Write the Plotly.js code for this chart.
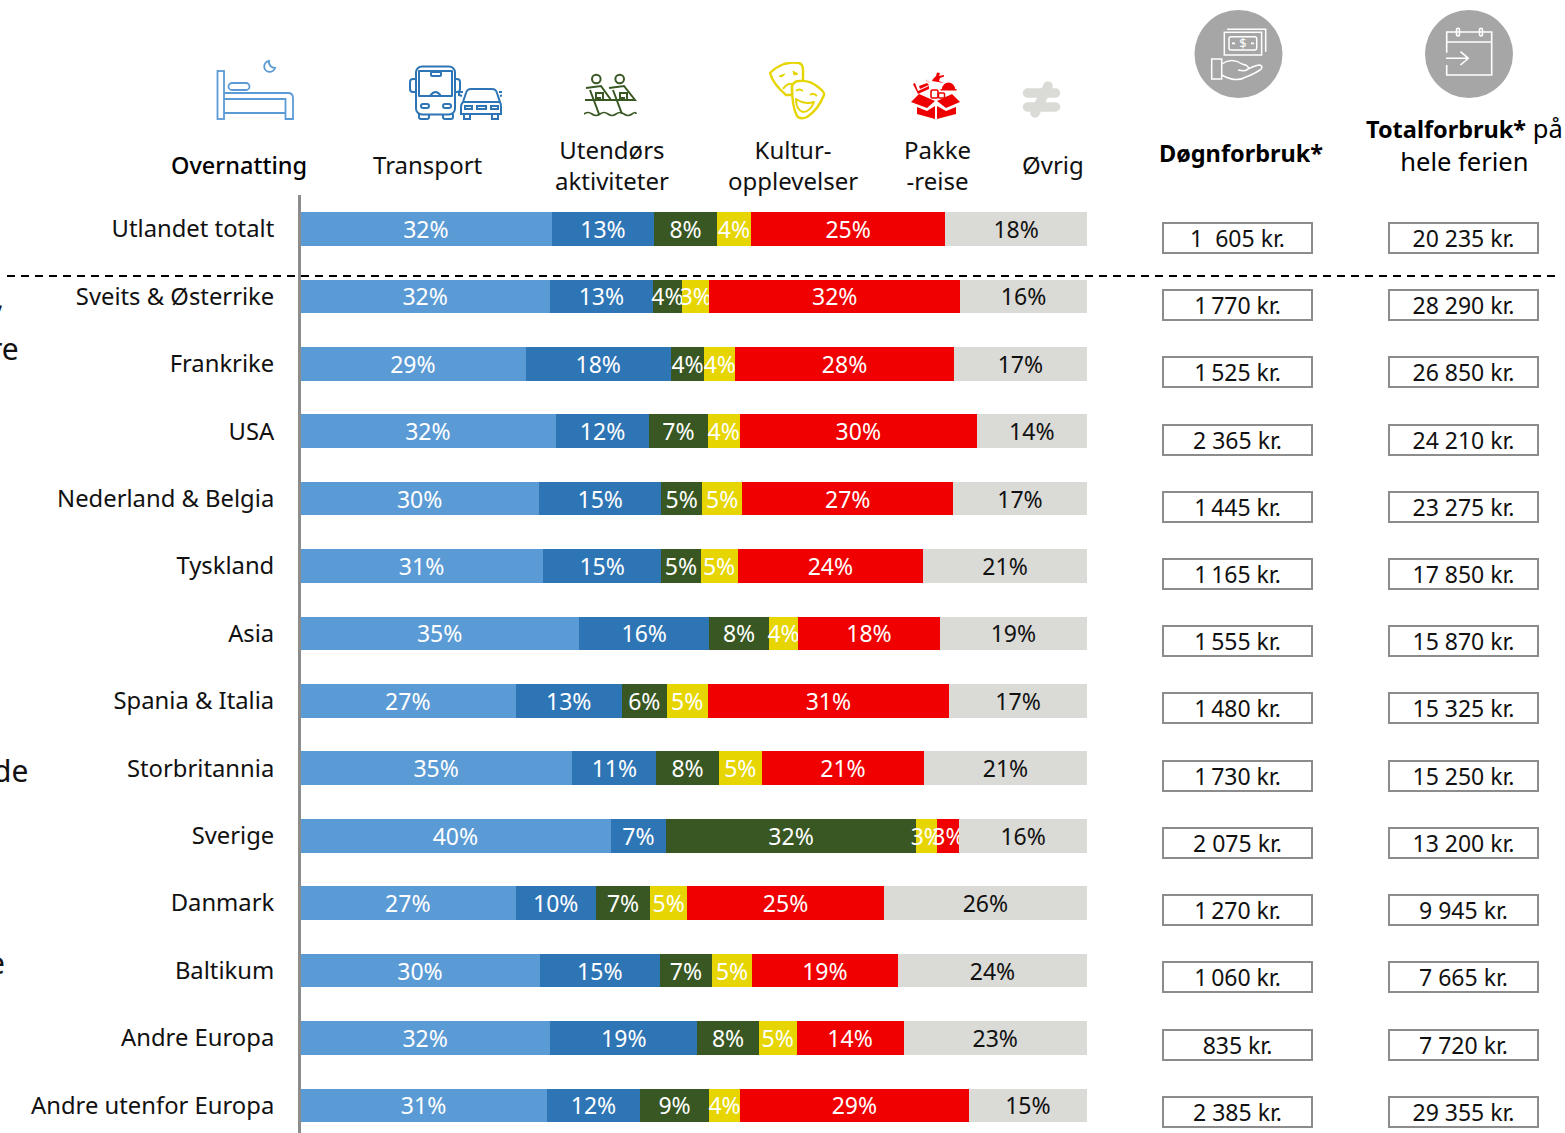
<!DOCTYPE html>
<html><head><meta charset="utf-8">
<script src="https://cdn.plot.ly/plotly-3.0.1.min.js"></script>
<style>html,body{margin:0;padding:0;background:#fff;overflow:hidden}#c{width:1565px;height:1133px}</style>
</head><body><div id="c"></div>
<script>
const W=1565,H=1133;
const categories=["Utlandet totalt","Sveits & Østerrike","Frankrike","USA","Nederland & Belgia","Tyskland","Asia","Spania & Italia","Storbritannia","Sverige","Danmark","Baltikum","Andre Europa","Andre utenfor Europa"];
const overnatting=[32.0,31.8,28.7,32.5,30.4,30.9,35.5,27.4,34.6,39.5,27.4,30.5,31.8,31.4];
const transport=[13.0,13.0,18.4,11.9,15.5,15.0,16.5,13.5,10.7,7.0,10.2,15.2,18.7,11.8];
const utendors=[8.0,3.8,4.3,7.4,5.2,5.0,7.6,5.7,7.9,31.8,6.9,6.7,7.8,8.8];
const kultur=[4.3,3.4,3.9,4.1,5.1,4.7,3.7,5.2,5.5,2.7,4.7,5.0,4.8,3.9];
const pakke=[24.7,31.9,27.8,30.1,26.8,23.6,18.0,30.7,20.6,2.8,25.0,18.6,13.6,29.1];
const ovrig=[18.0,16.1,16.9,14.0,17.0,20.8,18.7,17.5,20.7,16.2,25.8,24.0,23.3,15.0];
const overnattingLbl=[32,32,29,32,30,31,35,27,35,40,27,30,32,31];
const transportLbl=[13,13,18,12,15,15,16,13,11,7,10,15,19,12];
const utendorsLbl=[8,4,4,7,5,5,8,6,8,32,7,7,8,9];
const kulturLbl=[4,3,4,4,5,5,4,5,5,3,5,5,5,4];
const pakkeLbl=[25,32,28,30,27,24,18,31,21,3,25,19,14,29];
const ovrigLbl=[18,16,17,14,17,21,19,17,21,16,26,24,23,15];
const dognforbruk=["1  605 kr.","1\u2009770 kr.","1\u2009525 kr.","2 365 kr.","1\u2009445 kr.","1\u2009165 kr.","1\u2009555 kr.","1\u2009480 kr.","1\u2009730 kr.","2 075 kr.","1\u2009270 kr.","1\u2009060 kr.","835 kr.","2 385 kr."];
const totalforbruk=["20 235 kr.","28 290 kr.","26 850 kr.","24 210 kr.","23 275 kr.","17 850 kr.","15 870 kr.","15 325 kr.","15 250 kr.","13 200 kr.","9 945 kr.","7 665 kr.","7 720 kr.","29 355 kr."];
const FONT='"Noto Sans", sans-serif';
const seriesDefs=[
 ["Overnatting",overnatting,overnattingLbl,"#5B9BD5","#fff"],
 ["Transport",transport,transportLbl,"#2E75B6","#fff"],
 ["Utendørs aktiviteter",utendors,utendorsLbl,"#385723","#fff"],
 ["Kulturopplevelser",kultur,kulturLbl,"#E6D500","#fff"],
 ["Pakkereise",pakke,pakkeLbl,"#F00000","#fff"],
 ["Øvrig",ovrig,ovrigLbl,"#DADAD6","#111"]];
const data=seriesDefs.map(([name,v,l,c,tc])=>({type:"bar",orientation:"h",name,y:categories,x:v,
  text:l.map(n=>n+"%"),textposition:"inside",insidetextanchor:"middle",constraintext:"none",textangle:0,
  insidetextfont:{family:FONT,size:23,color:tc},marker:{color:c,line:{width:0}},hoverinfo:"x+y+name",cliponaxis:false}));

const px=x=>x/W, py=y=>1-y/H;
const ann=(text,x,y,o={})=>Object.assign({text,xref:"paper",yref:"paper",x:px(x),y:py(y),showarrow:false,xanchor:"center",yanchor:"middle",align:"center",font:{family:FONT,size:24,color:"#111"}},o);
const cut={xanchor:"right",font:{family:FONT,size:30,color:"#111"}};
const annotations=[
 ann("Overnatting",239,164.5,{font:{family:FONT,size:23.5,color:"#000",weight:500}}),
 ann("Transport",428,164.5),
 ann("Utendørs<br>aktiviteter",612,165.5),
 ann("Kultur-<br>opplevelser",793,165.5),
 ann("Pakke<br>-reise",937,165.5),
 ann("Øvrig",1053,164.5),
 ann("<b>Døgnforbruk*</b>",1241,153,{font:{family:FONT,size:23.5,color:"#000"}}),
 ann('<b style="font-size:23.5px">Totalforbruk*</b> på<br>hele ferien',1464,144.5,{font:{family:FONT,size:25.5,color:"#000"}}),
 ann(",",6,297,cut),
 ann("re",21,348,cut),
 ann("de",30,770,cut),
 ann(",",3,911,cut),
 ann("e",7,962,cut)
];
const boxed=(labels,cx)=>labels.map((t,i)=>({text:t,xref:"paper",yref:"y",x:px(cx),y:categories[i],yshift:-(9-0.2*i),showarrow:false,
  width:147,height:28,borderwidth:2,bordercolor:"#8C8C8C",borderpad:0,bgcolor:"#fff",align:"center",valign:"middle",xanchor:"center",yanchor:"middle",
  font:{family:FONT,size:23,color:"#111"}}));
annotations.push(...boxed(dognforbruk,1237.5),...boxed(totalforbruk,1463.5));

const svg=(w,h,inner)=>"data:image/svg+xml;charset=utf-8,"+encodeURIComponent(`<svg xmlns="http://www.w3.org/2000/svg" width="${w}" height="${h}" viewBox="0 0 ${w} ${h}">${inner}</svg>`);
const image=(x,y,w,h,inner)=>({source:svg(w,h,inner),xref:"paper",yref:"paper",x:px(x),y:py(y),sizex:w/W,sizey:h/H,xanchor:"left",yanchor:"top",sizing:"stretch",layer:"above"});
const bed=`<g fill="none" stroke="#5B9BD5" stroke-width="1.8"><rect x="1.500" y="14" width="6.500" height="48"/><rect x="12.500" y="26" width="21" height="7" rx="3.500"/><path d="M8 36H72Q77 36 77 41V62H69.500V42H8M8 56H69.500"/><path d="M53 4A5.500 5.500 0 1 0 59 11A6 6 0 0 1 53 4Z"/></g>`;
const bus=`<g fill="none" stroke="#2E75B6" stroke-width="2"><rect x="9" y="1.500" width="39" height="48" rx="6"/><path d="M12 6H45V31H12Z" stroke-linejoin="round"/><path d="M23 31Q28.500 23 34 31"/><rect x="24" y="7" width="10" height="4" rx="1"/><path d="M9 14H6Q3 14 3 17V24Q3 27 6 27H9M48 14H50Q53 14 53 17V24Q53 27 50 27H48"/><rect x="14" y="39" width="8" height="4" rx="2"/><rect x="36" y="39" width="8" height="4" rx="2"/><path d="M12 49V52Q12 54 14 54H20Q22 54 22 52V49M36 49V52Q36 54 38 54H44Q46 54 46 52V49"/><path d="M56 37L59 28Q60 24 64 24H85Q89 24 90 28L93 37Q94 39 94 42V49H54V42Q54 39 56 37Z"/><path d="M56 37H93M55 31L52 30V27L56 27M93 31L97 30V27L92 27"/><rect x="58" y="41" width="7" height="3"/><rect x="70" y="41" width="9" height="3"/><rect x="84" y="41" width="7" height="3"/><path d="M57 49V54H63V49M85 49V54H91V49"/></g>`;
const paddle=`<g fill="none" stroke="#385723" stroke-width="2"><circle cx="12.300" cy="6" r="4.300"/><circle cx="35.700" cy="6" r="4.300"/><path d="M2 15L17 13L27 27H19V20H12V25H17M6 17L15 41M1 27H22"/><path d="M25 15L40 13L51 27H43V20H36V25H41M29 17L38 41M27 27H46"/><path d="M0 41Q4 38 8 41T16 41T24 41T32 41T40 41T48 41T52 41" stroke-width="1.700"/></g>`;
const masks=`<g fill="none" stroke="#E6D500" stroke-width="2.400" stroke-linejoin="round"><path d="M2 11Q8 5 16 2Q26 0 31 1Q35 2 35 8L35 19L24 24L24 33L18 33Q5 22 2 11Z"/><path d="M11 14L17 12L14 15ZM25 9L30 12L26 13Z" fill="#E6D500" stroke-width="1"/><path d="M15 27Q19 21 24 22" stroke-width="2"/><path d="M24 24Q26 19 31 19Q42 18 50 25Q57 30 56 33Q50 48 39 55Q32 58 29 54Q24 45 24 24Z" fill="#fff"/><path d="M28 29Q31 26 35 29M42 33Q45 30 49 34" stroke-width="1.800"/><path d="M28 37Q37 43 46 40Q42 50 35 50Q28 48 28 37Z" stroke-width="2"/></g>`;
const pack=`<g fill="#EE0000"><path d="M0 31L8 23L24 30L16 37Z"/><path d="M49 31L41 23L26 30L35 37Z"/><path d="M6 36L16 40L24 35V48L6 43Z"/><path d="M45 36L35 40L26 35V48L45 43Z"/><path d="M31 18A6.500 6.500 0 0 1 44 18H45.500V19.500H29.500V18Z"/><path d="M22 8L25 5L26 1.500L29 2L28 5L33 4L33 5.500L29 7L28 10L33 12L21 10Z"/><rect x="20" y="19" width="7" height="8" rx="1.500" fill="none" stroke="#EE0000" stroke-width="1.600"/><rect x="27.500" y="22" width="6" height="5" rx="1" fill="none" stroke="#EE0000" stroke-width="1.500"/><path d="M4 12L7 20L18 15V18L7 23L2 13ZM8 15L16 12L18 14L9 18Z"/><path d="M15 8A3 3 0 0 0 19 11A4 4 0 0 1 15 8Z"/></g>`;
const neq=`<g stroke="#DADAD6" stroke-width="9.500" stroke-linecap="round"><path d="M5.500 13H33.500M5.500 27H33.500"/><path d="M26 6L13 33"/></g>`;
const hand=`<g fill="none" stroke="#fff" stroke-width="1.500"><rect x="14.300" y="5.300" width="37.300" height="22.700"/><path d="M17 2.300H55.700V24.700"/><rect x="19" y="9.700" width="27.700" height="13.300" rx="2"/><path d="M22 16.300H25M41 16.300H44" stroke-width="1.800"/><text x="33" y="21" text-anchor="middle" font-size="13" fill="#fff" stroke="none" font-family="Noto Sans">$</text><rect x="1.700" y="32" width="10" height="20"/><path d="M11.700 37Q22 30 32 37Q40 39 38 42Q36 45 28 43M38 42Q46 38 50 38Q54 40 50 43Q42 48 36 50Q26 56 11.700 48"/></g>`;
const cal=`<g fill="none" stroke="#fff" stroke-width="1.600"><path d="M1.700 25.700V5H46.700V48H1.700V38"/><path d="M1.700 15H46.700"/><rect x="11.500" y="1.300" width="3" height="7.700" rx="1.500"/><rect x="34.500" y="1.300" width="3" height="7.700" rx="1.500"/><path d="M1 31.300H23.300M15.500 24.700L23.300 31.300L15.500 38"/></g>`;
const images=[
 image(216,57,79,64,bed),image(407,65,95,56,bus),image(584,73,53,46,paddle),
 image(768,62,60,58,masks),image(911,71,50,49,pack),image(1022,80,40,40,neq),
 image(1210,27,60,58,hand),image(1445,27,48,50,cal)
];
const circ=(cx,cy,r)=>({type:"circle",xref:"paper",yref:"paper",x0:px(cx-r),x1:px(cx+r),y0:py(cy-r),y1:py(cy+r),fillcolor:"#A6A6A6",line:{width:0},layer:"below"});
const shapes=[
 circ(1238.5,54,44),circ(1469,54,44),
 {type:"line",xref:"paper",yref:"paper",x0:px(7),x1:px(1555),y0:py(276),y1:py(276),line:{color:"#000",width:2,dash:"8px,6px"},layer:"above"}
];
const layout={width:W,height:H,margin:{l:0,r:0,t:0,b:0,pad:0},paper_bgcolor:"#fff",plot_bgcolor:"rgba(0,0,0,0)",
 barmode:"stack",bargap:0.5,showlegend:false,
 xaxis:{domain:[300/W,1087/W],range:[0,100.01],visible:false,fixedrange:true},
 yaxis:{domain:[0,(H-195)/H],type:"category",categoryorder:"array",categoryarray:categories,range:[13.41,-0.504],
  anchor:"free",position:299/W,showline:true,linecolor:"#8C8C8C",linewidth:3,ticks:"",showgrid:false,zeroline:false,ticklabelstandoff:19,
  tickfont:{family:FONT,size:23.8,color:"#111"},fixedrange:true},
 annotations,shapes,images,font:{family:FONT}};
Plotly.newPlot("c",data,layout,{displayModeBar:false,responsive:false});
</script></body></html>
